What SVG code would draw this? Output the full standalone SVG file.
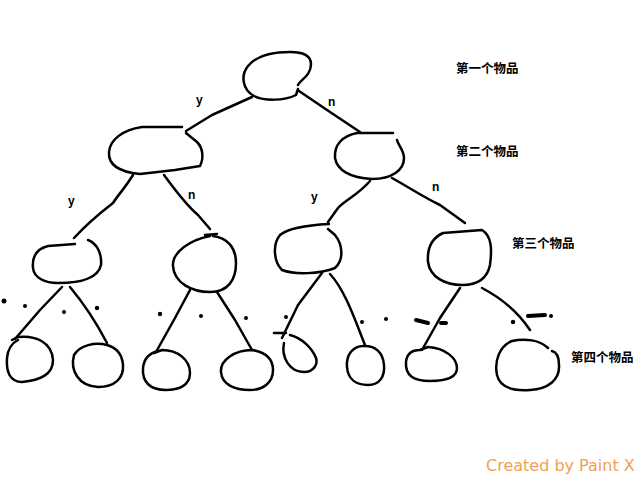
<svg xmlns="http://www.w3.org/2000/svg" width="640" height="480" viewBox="0 0 640 480">
<style>
.s{fill:none;stroke:#000;stroke-width:2.5;stroke-linecap:round;stroke-linejoin:round}
.yn{font-family:"Liberation Sans",Arial,sans-serif;font-size:12px;font-weight:bold;fill:#000}
.lv{font-family:"Noto Sans CJK SC","Liberation Sans",sans-serif;font-size:12.5px;font-weight:bold;fill:#000}
.wm{font-family:"DejaVu Sans",Verdana,sans-serif;font-size:16px;fill:#f0a055}
.d{fill:#000}
</style>
<rect width="640" height="480" fill="#fff"/>
<g id="connectors">
<path class="s" d="M252,97 L212,115 L186,131"/>
<path class="s" d="M299,91 L330,112 L360,132"/>
<path class="s" d="M133,175 C125,188 118,195 113,203 C100,213 86,225 74,238"/>
<path class="s" d="M164,175 C175,190 186,205 198,215 L210,229"/>
<path class="s" d="M370,181 C358,195 345,200 338,208 L328,222"/>
<path class="s" d="M392,178 C410,188 425,198 440,205 L465,223"/>
<path class="s" d="M62,287 L40,310 L15,339"/>
<path class="s" d="M70,287 C85,305 95,320 107,343"/>
<path class="s" d="M190,290 L175,318 L156,352"/>
<path class="s" d="M217,292 L235,320 L252,350"/>
<path class="s" d="M322,273 L298,305 L282,338"/>
<path class="s" d="M330,274 C345,290 355,320 365,345"/>
<path class="s" d="M460,288 L440,318 L422,350"/>
<path class="s" d="M482,288 C505,300 520,315 530,330"/>
</g>
<g id="n-root"><path class="s" d="M298,85 C300,80 311,76 311,64 C311,55 302,52 290,52 C272,52 256,56 248,66 C240,76 243,90 254,96 C264,101 284,101 296,95 L298,89"/></g>
<g id="n-l2a"><path class="s" d="M182,127 L142,127 C122,130 110,140 109,152 C108,165 120,172 140,174 L175,170 L200,166 C204,158 203,148 197,142 L186,133"/></g>
<g id="n-l2b"><path class="s" d="M393,133 L357,133 C342,136 334,145 335,158 C337,170 350,178 372,179 C392,179 404,170 404,158 C404,150 398,145 397,140"/></g>
<g id="n-l3a"><path class="s" d="M75,244 L48,246 C36,249 32,257 33,268 C34,278 45,283 58,283 C80,283 98,278 101,265 C102,252 96,243 88,240"/></g>
<g id="n-l3b"><path class="s" d="M205,235 L217,234 M210,236 C190,240 172,252 173,266 C174,283 192,292 210,292 C228,292 236,280 236,263 C236,248 228,238 213,236"/></g>
<g id="n-l3c"><path class="s" d="M329,224 C310,225 290,227 280,235 C272,245 274,262 282,270 C295,275 320,274 335,268 C344,260 343,245 335,235 L328,229"/></g>
<g id="n-l3d"><path class="s" d="M443,233 L482,230 C492,236 492,250 490,265 C487,280 475,285 462,285 C445,285 430,277 428,262 C427,248 432,238 443,233"/></g>
<g id="n-l4a"><path class="s" d="M12,340 L18,337 C35,335 52,342 53,360 C53,375 40,380 22,382 C10,382 6,372 7,358 C8,348 12,343 18,340"/></g>
<g id="n-l4b"><path class="s" d="M107,345 C95,342 80,345 74,355 C70,370 78,386 98,387 C115,387 124,378 123,365 C122,352 114,347 107,345"/></g>
<g id="n-l4c"><path class="s" d="M154,353 L162,350 C178,350 190,360 190,373 C190,386 178,390 166,390 C150,390 142,382 143,368 C144,358 150,353 158,351"/></g>
<g id="n-l4d"><path class="s" d="M252,350 C235,350 220,360 221,372 C222,385 235,390 250,390 C264,390 273,382 273,370 C273,358 264,352 252,350"/></g>
<g id="n-l4e"><path class="s" d="M274,333 L286,333 M284,343 C281,358 290,372 304,372 C314,372 318,364 316,358 C312,348 302,338 290,335"/></g>
<g id="n-l4f"><path class="s" d="M365,346 C352,345 346,356 347,367 C348,380 357,385 368,385 C380,385 385,376 384,365 C383,352 375,346 365,346"/></g>
<g id="n-l4g"><path class="s" d="M420,350 L428,347 C445,348 457,358 457,368 C457,378 445,381 430,381 C414,381 405,376 406,362 C407,352 414,350 420,350"/></g>
<g id="n-l4h"><path class="s" d="M548,348 C540,340 525,338 512,341 C500,346 494,360 497,375 C500,388 515,391 530,390 C548,389 560,380 559,365 C559,356 556,352 552,351"/></g>
<g id="labels">
<text class="yn" x="196" y="104">y</text>
<text class="yn" x="328" y="106">n</text>
<text class="yn" x="68" y="205">y</text>
<text class="yn" x="188" y="199">n</text>
<text class="yn" x="311" y="201">y</text>
<text class="yn" x="432" y="191">n</text>
<text class="lv" x="456" y="73">第一个物品</text>
<text class="lv" x="456" y="156">第二个物品</text>
<text class="lv" x="512" y="248">第三个物品</text>
<text class="lv" x="571" y="362">第四个物品</text>
<text class="wm" x="486" y="471">Created by Paint X</text>
</g>
<g id="dots">
<circle class="d" cx="4" cy="301" r="2.5"/>
<circle class="d" cx="25" cy="306" r="2"/>
<circle class="d" cx="64" cy="312" r="2"/>
<circle class="d" cx="97" cy="308" r="2.2"/>
<circle class="d" cx="160" cy="314" r="2.2"/>
<circle class="d" cx="201" cy="316" r="2"/>
<circle class="d" cx="246" cy="318" r="2"/>
<circle class="d" cx="286" cy="317" r="2"/>
<circle class="d" cx="362" cy="322" r="2"/>
<circle class="d" cx="386" cy="319" r="2"/>
<path d="M416,320 L428,323" stroke="#000" stroke-width="4" stroke-linecap="round"/>
<path d="M441,323 L446,323" stroke="#000" stroke-width="4" stroke-linecap="round"/>
<circle class="d" cx="513" cy="322" r="2.2"/>
<path d="M528,316 L545,315" stroke="#000" stroke-width="4" stroke-linecap="round"/>
<circle class="d" cx="551" cy="316" r="2"/>
</g>
</svg>
